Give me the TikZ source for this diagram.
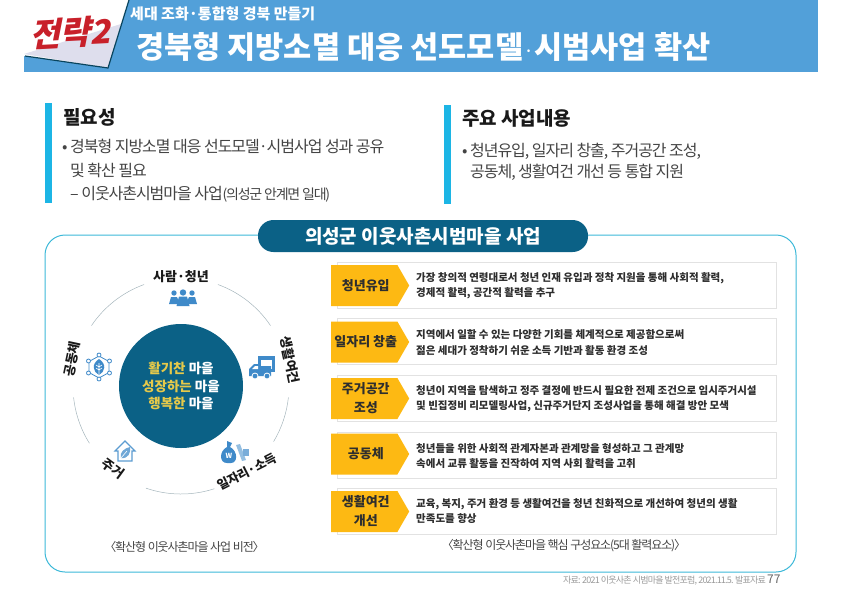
\documentclass[tikz,border=0pt]{standalone}
\usepackage{fontspec}
\setmainfont{Noto Sans CJK KR}
\newfontfamily\tightfont[LetterSpace=-6.5]{Noto Sans CJK KR}
\newfontfamily\capfont[LetterSpace=-9]{Noto Sans CJK KR}
\newfontfamily\slantfont[FakeSlant=0.25]{Noto Sans CJK KR}
\usepackage{xcolor}
\usetikzlibrary{shapes.symbols,calc}
\definecolor{headerblue}{HTML}{52A0D9}
\definecolor{barcyan}{HTML}{1CB5E5}
\definecolor{panelline}{HTML}{3CB8D8}
\definecolor{deepteal}{HTML}{0B6186}
\definecolor{signalyellow}{HTML}{FDB913}
\definecolor{softyellow}{HTML}{E6C94A}
\definecolor{iconblue}{HTML}{3F8AC9}
\definecolor{bodygray}{HTML}{444444}
\definecolor{darktext}{HTML}{2E2E2E}
\definecolor{cardline}{HTML}{E2E2E2}
\definecolor{arcgray}{HTML}{A5B5BC}
\definecolor{stampred}{HTML}{C8202A}
\tikzset{
  bar/.style={fill=barcyan, draw=none},
  heading/.style={anchor=west, inner sep=0pt, font=\fontsize{19}{22}\selectfont\bfseries, text=black!90},
  bodytext/.style={anchor=west, inner sep=0pt, align=left, text=bodygray, font=\tightfont\fontsize{16}{23.5}\selectfont},
  ringlabel/.style={inner sep=0pt, font=\fontsize{13}{15}\selectfont\bfseries, text=black!90},
  card/.style={draw=cardline, line width=1pt, fill=white, minimum width=439pt, minimum height=46pt, anchor=west, inner sep=0pt},
  tag/.style={signal, signal to=east, signal pointer angle=120, fill=signalyellow, minimum width=78pt, minimum height=41pt, anchor=west, inner sep=0pt, align=center, text=darktext, font=\fontsize{13}{19}\selectfont\bfseries},
  desc/.style={anchor=west, inner sep=0pt, align=left, text=darktext, font=\fontsize{10.5}{15.5}\selectfont\bfseries},
  caption/.style={inner sep=0pt, text=bodygray, font=\capfont\fontsize{12}{14}\selectfont},
  ringarc/.style={draw=arcgray, line width=0.5pt},
  people/.pic={
    \fill[iconblue] (-9,-5) circle (2.7) (9,-5) circle (2.7);
    \fill[iconblue] (-14,6) -- (-12,-1) -- (-6,-1) -- (-3,6) -- cycle (14,6) -- (12,-1) -- (6,-1) -- (3,6) -- cycle;
    \fill[iconblue] (0,-5.5) circle (3.2);
    \fill[iconblue] (-6.5,8) -- (-4,-1.5) -- (4,-1.5) -- (6.5,8) -- cycle;},
  hub/.pic={
    \draw[iconblue, line width=0.8pt] (0,-11) -- (10,-5.5) -- (10,5.5) -- (0,11) -- (-10,5.5) -- (-10,-5.5) -- cycle;
    \foreach \a/\b in {0/-12,10.5/-6,10.5/6,0/12,-10.5/6,-10.5/-6}
      \filldraw[draw=iconblue, fill=white, line width=0.8pt] (\a,\b) circle (2);
    \fill[iconblue] (0,-8) .. controls (8,-3) and (6,5) .. (0,8) .. controls (-6,5) and (-8,-3) .. (0,-8);
    \draw[white, line width=0.6pt] (0,-4) -- (0,8) (0,0) -- (3,-2) (0,0) -- (-3,-2) (0,3) -- (3,1) (0,3) -- (-3,1);},
  truck/.pic={
    \fill[iconblue] (-4,-12) rectangle (13,4);
    \fill[white] (-1,-8) rectangle (10,1);
    \fill[iconblue] (-13,8) -- (-13,1) -- (-8,-4) -- (-2,-4) -- (-2,-2) -- (9,-2) -- (9,8) -- cycle;
    \fill[white] (-10,1) -- (-7,-2) -- (-4,-2) -- (-4,1) -- cycle;
    \filldraw[fill=iconblue, draw=white, line width=0.8pt] (-7,8) circle (3) (5,8) circle (3);},
  moneybag/.pic={
    \fill[iconblue!55] (1,-8) -- (5,-9) -- (11,7) -- (7,8) -- cycle;
    \fill[iconblue!70] (8,-4) rectangle (14,3);
    \fill[iconblue] (-8,-12) -- (-3,-10) -- (-5,-6) .. controls (3,-2) and (3,10) .. (-4,10) -- (-8,10) .. controls (-16,10) and (-16,-2) .. (-8,-6) -- cycle;
    \node[inner sep=0pt, text=white, font=\fontsize{7}{8}\selectfont\bfseries] (won) at (-6,3) {W};},
  homeicon/.pic={
    \draw[iconblue!85, line width=1.1pt, fill=white] (-10,-1) -- (0,-11) -- (10,-1) -- (7,-1) -- (7,9) -- (-7,9) -- (-7,-1) -- cycle;
    \fill[iconblue!75] (-4,6) .. controls (-6,0) and (0,-4) .. (5,-5) .. controls (6,1) and (3,7) .. (-4,6);
    \draw[white, line width=0.6pt] (-4,6) -- (2,-1);}
}
\begin{document}
\begin{tikzpicture}[x=1pt, y=-1pt]
  \useasboundingbox (0,0) rectangle (842,595);
  % header
  \fill[headerblue] (24,0) rectangle (818,72);
  \fill[white] (24,0) -- (129,0) -- (108,68) -- (24,56) -- cycle;
  \fill[blue!30!gray!20] (24,54) -- (121,24) -- (108,68) -- cycle;
  \draw[deepteal!70!black, line width=1.2pt] (25,56) -- (108,68) -- (129,0);
  \node[inner sep=0pt, rotate=3, text=stampred, font=\slantfont\bfseries\fontsize{33}{36}\selectfont] (stamp) at (70,33) {전략2};
  \node[anchor=west, inner sep=0pt, text=white, font=\fontsize{15}{17}\selectfont\bfseries] (subtitle) at (130,14) {세대 조화·통합형 경북 만들기};
  \node[anchor=west, inner sep=0pt, text=white, font=\fontsize{30.6}{34}\selectfont\bfseries] (title) at (136,47) {경북형 지방소멸 대응 선도모델{\mdseries\fontsize{20}{34}\selectfont ·}시범사업 확산};

  % top boxes
  \fill[bar] (45,103) rectangle (52,203);
  \fill[bar] (444,105) rectangle (451,204);
  \node[heading] (need) at (63,117) {필요성};
  \node[heading] (main) at (462,118) {주요 사업내용};
  \node[bodytext] (needtext) at (62,171) {• 경북형 지방소멸 대응 선도모델·시범사업 성과 공유\\\hspace*{8pt}및 확산 필요\\\hspace*{8pt}– 이웃사촌시범마을 사업{\capfont\fontsize{14}{23.5}\selectfont(의성군 안계면 일대)}};
  \node[bodytext, font=\tightfont\fontsize{16}{21}\selectfont] (maintext) at (462,161.5) {• 청년유입, 일자리 창출, 주거공간 조성,\\\hspace*{8pt}공동체, 생활여건 개선 등 통합 지원};

  % panel
  \draw[panelline, line width=1pt, rounded corners=20pt] (45,235) rectangle (796,572);
  \node[fill=deepteal, rounded corners=15.5pt, minimum width=330pt, minimum height=32pt, inner sep=0pt, text=white, font=\fontsize{19}{21}\selectfont\bfseries] (pill) at (423,236) {의성군 이웃사촌시범마을 사업};

  % left ring
  \node[circle, fill=deepteal, minimum size=124pt, inner sep=0pt, align=center, text=white, font=\fontsize{13.5}{17.2}\selectfont\bfseries] (hub) at (181,386) {\textcolor{softyellow}{활기찬} 마을\\\textcolor{softyellow}{성장하는} 마을\\\textcolor{softyellow}{행복한} 마을};
  \foreach \s/\e in {146/110,70/34,-6/-31,-72/-109,-148/-174}
    \draw[ringarc] ($(hub)+(\s:108pt)$) arc[start angle=\s, end angle=\e, radius=108pt];
  \node[ringlabel] (person) at (181,277) {사람·청년};
  \node[ringlabel, rotate=-78] (living) at (290,360) {생활여건};
  \node[ringlabel, rotate=27, font=\fontsize{12.5}{15}\selectfont\bfseries] (job) at (247,472) {일자리·소득};
  \node[ringlabel, rotate=-36] (house) at (113,469) {주거};
  \node[ringlabel, rotate=78] (commune) at (72,359) {공동체};
  \pic at (183,298) {people};
  \pic at (99,367) {hub};
  \pic at (262,368) {truck};
  \pic at (235,453) {moneybag};
  \pic at (125,452) {homeicon};

  % right rows
  \node[card] (cardyouth) at (337,285) {};
  \node[card] (cardjob) at (337,341.5) {};
  \node[card] (cardspace) at (337,398.5) {};
  \node[card] (cardcomm) at (337,455) {};
  \node[card] (cardlife) at (337,511.5) {};
  \node[tag] (youth) at (331,285.5) {\hspace*{3pt}청년유입};
  \node[tag] (jobs) at (331,342) {\hspace*{3pt}일자리 창출};
  \node[tag] (space) at (331,398.5) {\hspace*{3pt}주거공간\\\hspace*{3pt}조성};
  \node[tag] (comm) at (331,454) {\hspace*{3pt}공동체};
  \node[tag] (life) at (331,511.5) {\hspace*{3pt}생활여건\\\hspace*{3pt}개선};
  \node[desc] (descyouth) at (416,285.5) {가장 창의적 연령대로서 청년 인재 유입과 정착 지원을 통해 사회적 활력,\\경제적 활력, 공간적 활력을 추구};
  \node[desc] (descjob) at (416,342.5) {지역에서 일할 수 있는 다양한 기회를 체계적으로 제공함으로써\\젊은 세대가 정착하기 쉬운 소득 기반과 활동 환경 조성};
  \node[desc] (descspace) at (416,398.5) {청년이 지역을 탐색하고 정주 결정에 반드시 필요한 전제 조건으로 임시주거시설\\및 빈집정비 리모델링사업, 신규주거단지 조성사업을 통해 해결 방안 모색};
  \node[desc] (desccomm) at (416,456) {청년들을 위한 사회적 관계자본과 관계망을 형성하고 그 관계망\\속에서 교류 활동을 진작하여 지역 사회 활력을 고취};
  \node[desc] (desclife) at (416,511) {교육, 복지, 주거 환경 등 생활여건을 청년 친화적으로 개선하여 청년의 생활\\만족도를 향상};

  % captions
  \node[caption] (capleft) at (184.5,547) {〈확산형 이웃사촌마을 사업 비전〉};
  \node[caption] (capright) at (564,546) {〈확산형 이웃사촌마을 핵심 구성요소(5대 활력요소)〉};
  \node[anchor=east, inner sep=0pt, text=black!40, font=\capfont\fontsize{9}{10}\selectfont] (source) at (766,581) {자료: 2021 이웃사촌 시범마을 발전포럼, 2021.11.5. 발표자료};
  \node[anchor=west, inner sep=0pt, text=black!60, font=\fontsize{12}{14}\selectfont] (pageno) at (767,579) {77};
\end{tikzpicture}
\end{document}
